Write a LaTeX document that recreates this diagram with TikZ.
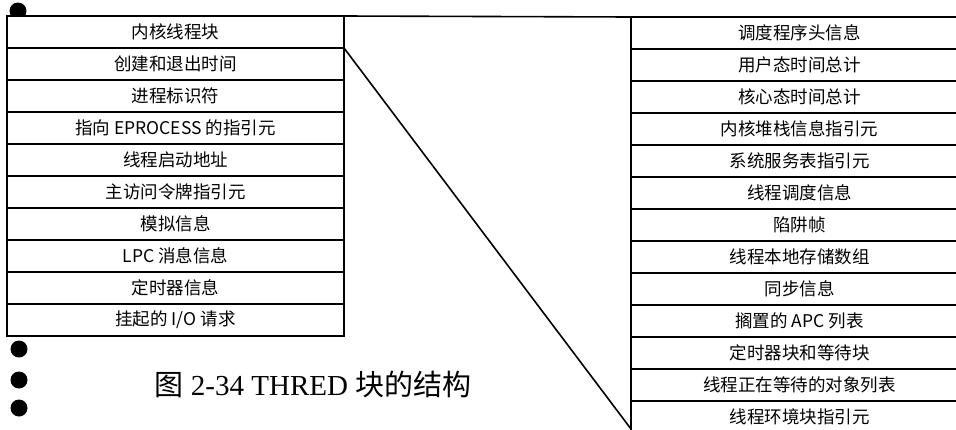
\documentclass[tikz,border=0pt]{standalone}
\usepackage{fontspec}
\setmainfont{Liberation Serif}
\newfontfamily\cjk{Noto Sans CJK SC}
\usetikzlibrary{positioning}

\tikzset{
  field/.style={draw,fill=white,line width=1.6pt,outer sep=0pt,inner sep=0pt,
    minimum width=337pt,minimum height=32pt,
    font=\cjk\fontsize{17.5}{17.5}\selectfont},
  bullet/.style={fill=black}
}

\begin{document}
\begin{tikzpicture}[x=1pt,y=-1pt,line cap=butt,line join=miter,node distance=0pt]
    \path[use as bounding box] (0,0) rectangle (956,429);

    \fill[bullet] (18,11) circle[radius=8.5pt];

    % left block
    \node[field,anchor=north west] (L1) at (7,16) {内核线程块};
    \node[field,below=of L1] (L2) {创建和退出时间};
    \node[field,below=of L2] (L3) {进程标识符};
    \node[field,below=of L3] (L4) {指向 EPROCESS 的指引元};
    \node[field,below=of L4] (L5) {线程启动地址};
    \node[field,below=of L5] (L6) {主访问令牌指引元};
    \node[field,below=of L6] (L7) {模拟信息};
    \node[field,below=of L7] (L8) {LPC 消息信息};
    \node[field,below=of L8] (L9) {定时器信息};
    \node[field,below=of L9] (L10) {挂起的 I/O 请求};

    % right block
    \node[field,anchor=north west] (R1) at (631,17) {调度程序头信息};
    \node[field,below=of R1] (R2) {用户态时间总计};
    \node[field,below=of R2] (R3) {核心态时间总计};
    \node[field,below=of R3] (R4) {内核堆栈信息指引元};
    \node[field,below=of R4] (R5) {系统服务表指引元};
    \node[field,below=of R5] (R6) {线程调度信息};
    \node[field,below=of R6] (R7) {陷阱帧};
    \node[field,below=of R7] (R8) {线程本地存储数组};
    \node[field,below=of R8] (R9) {同步信息};
    \node[field,below=of R9] (R10) {搁置的 APC 列表};
    \node[field,below=of R10] (R11) {定时器块和等待块};
    \node[field,below=of R11] (R12) {线程正在等待的对象列表};
    \node[field,below=of R12] (R13) {线程环境块指引元};

    \coordinate (diagend) at (631,429);
    \draw[line width=1.6pt] (L1.north east) -- (R1.north west);
    \draw[line width=1.6pt] (L1.south east) -- (diagend);

    \fill[bullet] (19,349) circle[radius=8.5pt];
    \fill[bullet] (19,380) circle[radius=8.5pt];
    \fill[bullet] (19,408) circle[radius=8.5pt];

    \node[font=\fontsize{29}{29}\selectfont] (caption) at (313,384)
        {{\cjk 图} 2-34 THRED {\cjk 块的结构}};
\end{tikzpicture}
\end{document}
